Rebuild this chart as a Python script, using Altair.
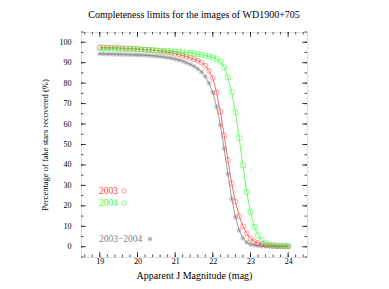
import altair as alt
import pandas as pd

# ---- data -------------------------------------------------------------
mags = [round(19.0 + 0.1 * i, 1) for i in range(51)]

pct_2003 = [97.5, 97.4, 97.4, 97.3, 97.3, 97.2,
            97.1, 97.0, 96.9, 96.8, 96.7,
            96.6, 96.4, 96.3, 96.1, 95.9,
            95.7, 95.4, 95.1, 94.8, 94.4,
            94.0, 93.5, 93.0, 92.4, 91.7,
            91.0, 90.0, 88.5, 86.0, 82.5,
            75.5, 66.0, 54.5, 42.5, 31.0,
            22.0, 15.0, 10.0, 6.5, 4.0,
            2.7, 1.8, 1.2, 0.8, 0.6,
            0.4, 0.3, 0.3, 0.2, 0.2]

pct_2004 = [97.0, 97.0, 97.0, 96.9, 96.9, 96.8,
            96.8, 96.7, 96.7, 96.6, 96.5,
            96.4, 96.3, 96.2, 96.1, 96.0,
            95.9, 95.8, 95.7, 95.6, 95.4,
            95.3, 95.1, 94.9, 94.7, 94.5,
            94.2, 93.9, 93.5, 93.1, 92.6,
            91.8, 90.5, 87.7, 82.8, 75.5,
            65.8, 53.1, 39.8, 26.7, 17.0,
            9.7, 5.6, 3.2, 1.8, 1.2,
            0.8, 0.6, 0.5, 0.4, 0.3]

pct_both = [94.3, 94.3, 94.2, 94.2, 94.1, 94.1,
            94.0, 94.0, 93.9, 93.9, 93.8,
            93.7, 93.6, 93.5, 93.4, 93.2,
            93.0, 92.8, 92.5, 92.2, 91.8,
            91.3, 90.7, 90.0, 89.2, 88.2,
            87.0, 85.5, 83.3, 80.0, 75.5,
            68.5, 59.5, 48.0, 35.5, 23.5,
            14.5, 8.0, 4.2, 2.2, 1.2,
            0.8, 0.5, 0.4, 0.3, 0.2,
            0.2, 0.1, 0.1, 0.1, 0.1]

series_names = ["2003\u22122004", "2003", "2004"]
series_colors = ["#858585", "#ff3c3c", "#3cff3c"]

x_major = [19, 20, 21, 22, 23, 24]
x_minor = [round(18.6 + 0.2 * i, 1) for i in range(30)]
y_major = [0, 10, 20, 30, 40, 50, 60, 70, 80, 90, 100]
y_minor = [-5 + 5 * i for i in range(23)]

# ---- layout -----------------------------------------------------------
W, H = 226, 225
FONT = "Liberation Serif"
STAR = ("M0,-1L0,1M-0.95,-0.31L0.95,0.31M-0.59,0.81L0.59,-0.81"
        "M0.59,0.81L-0.59,-0.81M-0.95,0.31L0.95,-0.31")
SHAPES = [STAR, "circle", "square"]
SIZES = [26, 22, 22]

rows = []
for name, vals in zip(series_names, [pct_both, pct_2003, pct_2004]):
    for m, v in zip(mags, vals):
        rows.append({"mag": m, "pct": v, "series": name})
df = pd.DataFrame(rows)

xs = alt.Scale(domain=[18.5, 24.5], nice=False, zero=False)
ys = alt.Scale(domain=[-5, 105], nice=False, zero=False)
x_axis = alt.Axis(values=x_major, ticks=False, domain=False, grid=False,
                  labelFont=FONT, labelFontSize=8, labelColor="black", labelPadding=0,
                  title="Apparent J Magnitude (mag)", titleFont=FONT, titleFontSize=10,
                  titleFontWeight="normal", titlePadding=5, titleColor="black")
y_axis = alt.Axis(values=y_major, ticks=False, domain=False, grid=False,
                  labelFont=FONT, labelFontSize=8, labelColor="black", labelPadding=10,
                  title="Percentage of fake stars recovered (%)", titleFont=FONT,
                  titleFontSize=8.5, titleFontWeight="normal", titlePadding=10, titleColor="black")

color = alt.Color("series:N", scale=alt.Scale(domain=series_names, range=series_colors), legend=None)
shape = alt.Shape("series:N", scale=alt.Scale(domain=series_names, range=SHAPES), legend=None)
size = alt.Size("series:N", scale=alt.Scale(domain=series_names, range=SIZES), legend=None)

base = alt.Chart(df)
lines = base.mark_line(strokeWidth=0.8).encode(
    x=alt.X("mag:Q", scale=xs, axis=x_axis),
    y=alt.Y("pct:Q", scale=ys, axis=y_axis),
    color=color,
    detail="series:N",
)
points = base.mark_point(strokeWidth=0.7, filled=False).encode(
    x=alt.X("mag:Q", scale=xs, axis=x_axis), y=alt.Y("pct:Q", scale=ys, axis=y_axis),
    color=color, shape=shape, size=size)

def xticks(vals, ln):
    d = alt.Chart(pd.DataFrame({"mag": vals}))
    b = d.mark_rule(color="black", strokeWidth=0.7).encode(
        x=alt.X("mag:Q", scale=xs, axis=x_axis), y=alt.value(H), y2=alt.value(H - ln))
    t = d.mark_rule(color="black", strokeWidth=0.7).encode(
        x=alt.X("mag:Q", scale=xs, axis=x_axis), y=alt.value(0), y2=alt.value(ln))
    return [b, t]

def yticks(vals, ln):
    d = alt.Chart(pd.DataFrame({"pct": vals}))
    l = d.mark_rule(color="black", strokeWidth=0.7).encode(
        y=alt.Y("pct:Q", scale=ys, axis=y_axis), x=alt.value(0), x2=alt.value(ln))
    r = d.mark_rule(color="black", strokeWidth=0.7).encode(
        y=alt.Y("pct:Q", scale=ys, axis=y_axis), x=alt.value(W), x2=alt.value(W - ln))
    return [l, r]

ticks = xticks(x_major, 5) + xticks(x_minor, 2.5) + yticks(y_major, 5) + yticks(y_minor, 2.5)

leg = pd.DataFrame({
    "series": series_names,
    "tx": [18, 18, 18],
    "ty": [207, 159, 171],
    "sx": [69, 43, 43],
})
leg_text = alt.Chart(leg).mark_text(align="left", baseline="middle", font=FONT, fontSize=9.5).encode(
    x=alt.value(18), y=alt.Y("ty:Q", scale=None, axis=None),
    text="series:N", color=color)
leg_sym = alt.Chart(leg).mark_point(strokeWidth=0.8, filled=False).encode(
    x=alt.X("sx:Q", scale=None, axis=None), y=alt.Y("ty:Q", scale=None, axis=None),
    color=color, shape=shape,
    size=alt.Size("series:N", scale=alt.Scale(domain=series_names, range=[22, 14, 14]), legend=None))

chart = alt.layer(lines, points, *ticks, leg_text, leg_sym).properties(
    width=W, height=H,
    title=alt.TitleParams("Completeness limits for the images of WD1900+705", font=FONT,
                          fontSize=10, fontWeight="normal", anchor="middle", offset=12),
    autosize=alt.AutoSizeParams(type="none"),
    padding={"left": 73, "top": 24, "right": 60, "bottom": 27},
).resolve_scale(size="independent").configure_view(stroke="black", strokeWidth=0.8).configure(background="white")

chart.save("out.html", embed_options={"renderer": "svg", "actions": False})
